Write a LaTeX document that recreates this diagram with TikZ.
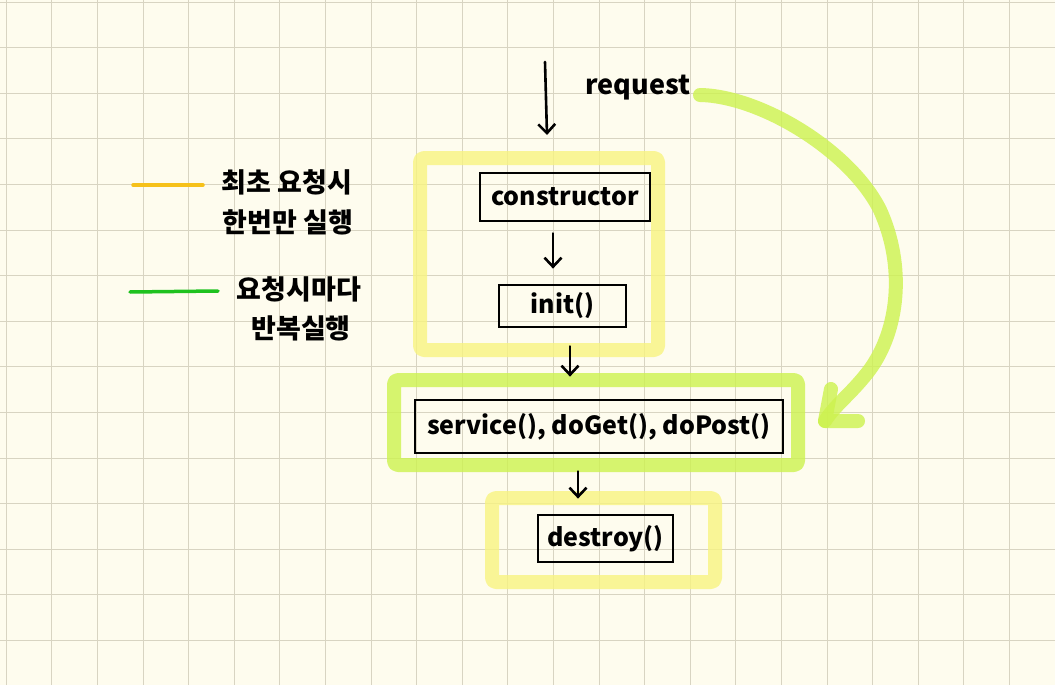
\documentclass[tikz,border=0pt]{standalone}
\usepackage{fontspec}
\newfontfamily\kr{Noto Sans CJK KR}
\usetikzlibrary{arrows.meta}
\definecolor{paper}{HTML}{FEFCEE}
\definecolor{gridc}{HTML}{D8D4C2}
\definecolor{hlyellow}{HTML}{F8F480}
\definecolor{hlgreen}{HTML}{CDF24E}
\definecolor{legyellow}{HTML}{F6C11A}
\definecolor{leggreen}{HTML}{1FC21F}
\tikzset{
  gridline/.style={draw=gridc, line width=0.9pt},
  hlbox/.style={draw=#1, draw opacity=0.8, line width=14pt, rounded corners=4pt, line join=round, rectangle, inner sep=0pt},
  codebox/.style={draw=black, line width=2.8pt, rectangle, inner sep=0pt, font=\kr\bfseries\fontsize{25}{28}\selectfont},
  arr/.style={draw=black, line width=2.6pt, line cap=round, -{Straight Barb[length=9pt,width=17pt,line width=2.6pt]}},
  loop/.style={draw=hlgreen, draw opacity=0.8, line width=14pt, line cap=round, line join=round},
  legline/.style={line width=3.5pt, line cap=round},
  legtext/.style={font=\kr\bfseries\fontsize{27}{30}\selectfont, inner sep=0pt},
}
\begin{document}
\begin{tikzpicture}[x=1pt,y=-1pt]
\useasboundingbox (0,0) rectangle (1055,685);
\fill[paper] (0,0) rectangle (1055,685);
\foreach \i in {0,...,22} \draw[gridline] (6.3+45.6*\i,0) -- (6.3+45.6*\i,685);
\foreach \j in {0,...,15} \draw[gridline] (0,2.1+45.6*\j) -- (1055,2.1+45.6*\j);

% highlight frames
\node[hlbox=hlyellow, minimum width=238pt, minimum height=192pt] (hlone) at (539,254) {};
\node[hlbox=hlgreen, minimum width=404pt, minimum height=85pt] (hltwo) at (596,422.5) {};
\node[hlbox=hlyellow, minimum width=223pt, minimum height=84pt] (hlthree) at (603.5,540) {};

% code boxes
\node[codebox, minimum width=170pt, minimum height=48pt] (ctor) at (565,197) {constructor};
\node[codebox, minimum width=127pt, minimum height=42pt] (init) at (562.5,306) {init()};
\node[codebox, minimum width=368pt, minimum height=53pt] (svc) at (599,426.5) {service(), doGet(), doPost()};
\node[codebox, minimum width=135pt, minimum height=47pt] (dest) at (605.5,538.5) {destroy()};

% request
\node[font=\kr\bfseries\fontsize{27}{30}\selectfont, inner sep=0pt] (req) at (638,88) {request};
\coordinate (reqtop) at (545,62);
\coordinate (reqend) at (547,135);
\draw[arr] (reqtop) -- (reqend);

% flow arrows
\draw[arr, shorten <=11pt, shorten >=15pt] ([xshift=-12pt]ctor.south) -- ([xshift=-9.5pt]init.north);
\draw[arr, shorten <=18pt, shorten >=22pt] ([xshift=7.5pt]init.south) -- ([xshift=-29pt]svc.north);
\draw[arr, shorten <=17pt, shorten >=15pt] ([xshift=-21pt]svc.south) -- ([xshift=-27.5pt]dest.north);

% loop arrow
\coordinate (loopstart) at (700,95);
\coordinate (looptip) at (825,421);
\coordinate (armup) at (831,389);
\coordinate (armright) at (858,421);
\draw[loop] (loopstart) .. controls (760,96) and (850,150) .. (880,210)
  .. controls (905,265) and (900,330) .. (868,372)
  .. controls (850,395) and (835,405) .. (looptip);
\draw[loop] (armup) -- (looptip) -- (armright);

% legend
\coordinate (ly1) at (133,185);
\coordinate (ly2) at (203,185);
\coordinate (lg1) at (130,292);
\coordinate (lg2) at (218,291);
\draw[legline, legyellow] (ly1) -- (ly2);
\draw[legline, leggreen] (lg1) -- (lg2);
\node[legtext] (t1) at (287,182) {최초 요청시};
\node[legtext] (t2) at (288,222) {한번만 실행};
\node[legtext] (t3) at (299,289) {요청시마다};
\node[legtext] (t4) at (301,328) {반복실행};
\end{tikzpicture}
\end{document}
